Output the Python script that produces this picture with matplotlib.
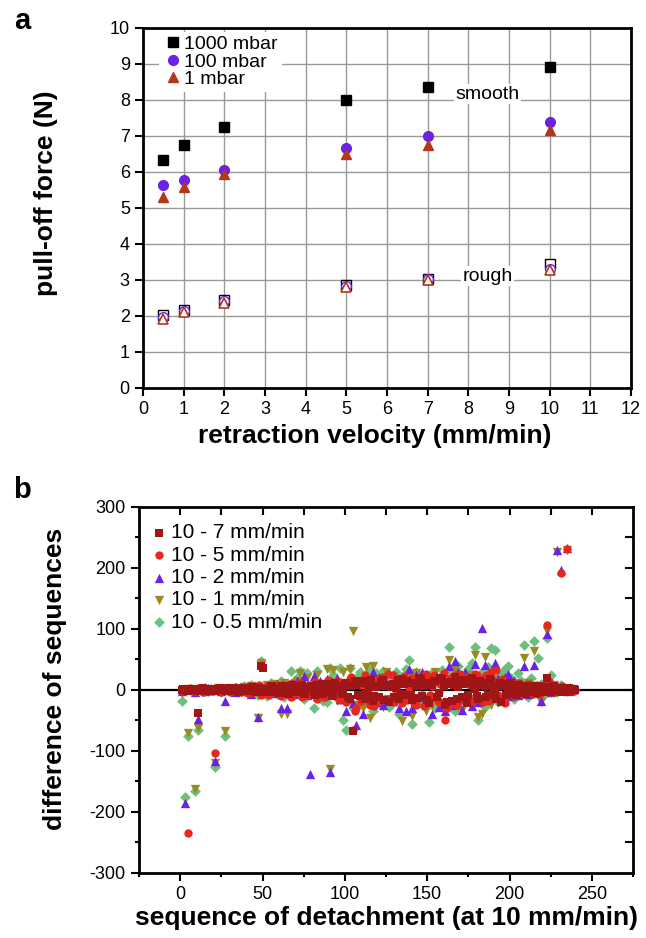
import numpy as np
import matplotlib
matplotlib.use("Agg")
import matplotlib.pyplot as plt

plt.rcParams['font.family'] = ['Liberation Sans', 'DejaVu Sans']
plt.rcParams['axes.unicode_minus'] = False

# ---- panel a: pull-off force vs retraction velocity ----
velocity = [0.5, 1, 2, 5, 7, 10]
smooth_1000 = [6.33, 6.73, 7.25, 7.98, 8.35, 8.90]
smooth_100 = [5.62, 5.77, 6.05, 6.65, 7.00, 7.38]
smooth_1 = [5.30, 5.58, 5.95, 6.50, 6.75, 7.15]
rough_1000 = [2.02, 2.17, 2.45, 2.85, 3.02, 3.45]
rough_100 = [1.97, 2.13, 2.40, 2.83, 3.02, 3.30]
rough_1 = [1.92, 2.10, 2.37, 2.80, 3.00, 3.27]

# ---- panel b: difference of sequences ----
seq = np.arange(1, 241, 2)       # odd detachment numbers
seq_even = np.arange(2, 241, 2)  # even detachment numbers
diff_7 = [0, 1, -1, 0, 2, -38, 1, -1, 0, 2,
          -2, 1, 0, 3, -1, 2, 0, -3, 1, 2,
          3, -2, 1, 0, 39, -4, 2, 5, -3, 1,
          4, -5, 6, 2, -3, 7, 0, -6, 5, 3,
          -4, 8, 2, -7, 10, 4, -9, 6, 1, -5,
          12, -15, -67, 8, -10, 14, -6, 9, -18, 5,
          -12, 16, 7, -20, 10, 3, -14, 18, -8, 11,
          -16, 6, 20, -10, 12, -22, 8, 15, -5, 18,
          -25, 10, -18, 22, 5, -12, 16, -8, 20, 2,
          -14, 12, 6, -9, 15, -4, 8, -20, 10, 3,
          -6, 8, 4, -5, 7, 2, -4, 6, -3, 5,
          3, 19, -4, 6, 2, -3, 4, 1, -2, 1]
diff_7_even = [1, -1, 2, 0, -2, 1, 3, -1, 0, 2,
               -1, 3, 1, -2, 2, 4, -1, 1, 3, -2,
               2, 5, -3, 4, 36, 1, -4, 6, 3, -5,
               7, 2, -6, 8, 4, -3, 9, -7, 2, 6,
               -8, 5, 10, -4, 7, -10, 12, 3, -6, 9,
               -12, 6, 15, -8, 11, -14, 4, 16, -10, 7,
               13, -16, 9, 5, -12, 17, -6, 10, 14, -9,
               11, -13, 18, 6, -17, 9, 14, -11, 19, 7,
               -20, 13, 8, -15, 17, 10, -22, 12, 6, -10,
               15, 9, -12, 18, 5, -14, 11, 7, -9, 12,
               5, -8, 9, 3, -6, 7, 4, -5, 6, 2,
               -4, 5, 3, -2, 4, 2, -3, 3, 1, 0]
diff_5 = [1, 0, -235, 2, -1, 3, 0, -2, 1, -1,
          -103, 2, -3, 1, 4, -2, 0, 3, -4, 2,
          -5, 3, 6, -2, -8, 4, 7, -5, 2, 9,
          -10, 6, 3, -12, 8, -4, 11, 2, -9, 5,
          7, -14, 12, 3, -8, 15, -3, 10, -16, 6,
          -20, 18, -65, -30, 9, -12, 20, -25, 6, 14,
          -18, 22, 8, -15, 25, -6, 12, -22, 16, 4,
          20, -24, 10, -8, 26, -14, 6, 18, -20, 12,
          -49, 15, -22, 24, 8, -16, 20, -10, 14, 27,
          -12, 18, 6, -18, 30, 10, -8, 15, -22, 9,
          8, -10, 12, 4, -6, 10, -4, 7, 2, -5,
          6, 107, 3, -4, 5, 192, 3, 231, 2, -1]
diff_5_even = [-2, 1, 3, -1, 0, 2, -3, 1, 2, -1,
               3, -2, 0, 4, -3, 1, 5, -2, 2, -4,
               6, -3, 2, 8, -6, 4, -9, 3, 7, -4,
               9, -7, 5, 12, -5, 10, -11, 4, 8, -6,
               13, -5, 8, -12, 16, 4, -10, 14, -7, 11,
               -16, 22, -35, 12, -18, 24, -9, 17, -26, 10,
               20, -14, 26, 6, -20, 15, -11, 23, -17, 9,
               -22, 18, 12, -26, 21, -9, 25, -15, 10, 28,
               -30, 19, 11, -24, 26, -13, 22, 8, -18, 24,
               16, -20, 25, -8, 14, 32, -14, 18, -10, 12,
               -9, 11, 6, -7, 9, 5, -6, 8, -4, 3,
               4, 15, -3, 5, 2, 6, -2, 3, 1, 0]
diff_2 = [-2, -185, 1, 0, -3, -47, 2, -1, 3, 0,
          -117, 2, -1, -18, 3, 0, -4, 2, 5, -2,
          4, -6, 3, -45, 6, -3, 8, 2, -5, 10,
          -29, 8, -30, 12, -6, 15, 4, 23, -8, -138,
          23, -10, 14, 6, 18, -134, 8, 20, -15, 12,
          -35, 18, -22, -58, 12, -40, 25, -15, 30, -20,
          22, -25, 15, 28, -18, 10, -30, 20, -35, 34,
          -29, 25, -12, 30, -20, 15, -40, 22, -28, 18,
          -35, 39, -25, 47, 29, -32, 29, 20, -27, 43,
          -20, 101, 41, -15, 25, 45, 18, -12, 22, 27,
          -10, 15, -8, 12, 39, -6, 10, 41, -5, -18,
          8, 92, -4, 6, 230, 197, 4, 233, -2, 1]
diff_1 = [-5, 2, -70, -2, -163, -62, 1, -3, 2, 0,
          -120, 3, -2, -68, 1, 4, -3, 2, -1, 5,
          -4, 6, 3, -46, 45, -5, 8, -2, 10, 4,
          -40, 12, -40, 8, -10, 15, 28, -12, 20, 6,
          -8, 25, 10, -15, 35, -129, 32, -18, 12, 30,
          -20, 35, 97, -25, 15, -30, 38, -46, 40, -22,
          18, -28, 30, -15, 22, -20, 12, -51, 20, 25,
          -43, 28, -18, 15, -35, 20, -25, 30, -10, 18,
          -22, 49, 15, 35, -28, -32, 22, -15, 25, 57,
          -44, -40, 54, 20, -25, 18, -15, 12, 10, -8,
          15, -12, 10, -8, 52, 12, -6, 64, 5, -20,
          6, 97, -5, 8, 226, 3, -3, 230, 2, -1]
diff_05 = [-18, -176, -75, 2, -165, -66, -1, 3, -2, 1,
           -127, 2, -3, -75, 4, -1, 3, -4, 2, 6,
           -5, 8, 4, -8, 48, 6, -10, 12, 3, -6,
           15, -12, 10, 31, -8, 20, 31, -15, 28, 5,
           -29, 31, 12, -18, -20, 36, 25, -10, 36, -50,
           -66, 36, -30, 20, 30, -25, 15, 33, -35, 28,
           -20, 31, 25, -28, 18, 30, -40, 22, 35, 49,
           -55, 30, -22, 25, -18, -52, 28, -30, 20, 32,
           -28, 71, 30, -35, 40, 25, -20, 35, 45, 71,
           -50, 30, -28, 38, 69, 65, -20, 25, 35, 39,
           20, -15, 28, 15, 73.5, -12, 20, 80, 53, 10,
           -8, 85, 25, 5, -4, 8, 3, -2, 4, 1]

purple = '#6a22e6'
brick = '#b5361c'

fig = plt.figure(figsize=(6.46, 9.38), dpi=100)

# ---------------- panel a ----------------
ax1 = fig.add_axes([0.2214, 0.5864, 0.7554, 0.3841])
ax1.set_axisbelow(True)
ax1.grid(True, color='#9a9a9a', lw=1.0)
ax1.plot(velocity, smooth_1000, 's', color='black', ms=6.5, ls='none', label='1000 mbar')
ax1.plot(velocity, smooth_100, 'o', color=purple, ms=7, ls='none', label='100 mbar')
ax1.plot(velocity, smooth_1, '^', color=brick, ms=7.5, ls='none', label='1 mbar')
ax1.plot(velocity, rough_1000, 's', mfc='white', mec='black', mew=1.0, ms=6.5, ls='none')
ax1.plot(velocity, rough_100, 'o', mfc='white', mec=purple, mew=1.0, ms=7, ls='none')
ax1.plot(velocity, rough_1, '^', mfc='white', mec=brick, mew=1.2, ms=7.5, ls='none')
ax1.set_xlim(0, 12)
ax1.set_ylim(0, 10)
ax1.set_xticks(range(0, 13))
ax1.set_yticks(range(0, 11))
ax1.tick_params(direction='out', length=6, width=1.5, labelsize=13)
for s in ax1.spines.values():
    s.set_linewidth(2)
ax1.set_xlabel('retraction velocity (mm/min)', fontsize=19, fontweight='bold')
ax1.xaxis.set_label_coords(0.475, -0.1)
ax1.set_ylabel('pull-off force (N)', fontsize=19, fontweight='bold')
ax1.yaxis.set_label_coords(-0.175, 0.54)
ax1.text(8.48, 8.15, 'smooth', fontsize=14, ha='center', va='center',
         bbox=dict(facecolor='white', edgecolor='none', pad=1))
ax1.text(8.48, 3.1, 'rough', fontsize=14, ha='center', va='center',
         bbox=dict(facecolor='white', edgecolor='none', pad=1))
leg1 = ax1.legend(loc='upper left', bbox_to_anchor=(0.025, 1.0), fontsize=14, frameon=True,
                  framealpha=1, edgecolor='none', handletextpad=0.1, labelspacing=0.0,
                  borderpad=0.2, handlelength=1.0, borderaxespad=0.2)
leg1.get_frame().set_boxstyle('square', pad=0)

# ---------------- panel b ----------------
ax2 = fig.add_axes([0.2152, 0.0693, 0.7647, 0.3902])
ax2.axhline(0, color='black', lw=1.6, zorder=1)
ax2.scatter(seq, diff_05, marker='D', s=30, color='#6fbf7c', lw=0, zorder=2, label='10 - 0.5 mm/min')
ax2.scatter(seq, diff_1, marker='v', s=45, color='#9a8a22', lw=0, zorder=3, label='10 - 1 mm/min')
ax2.scatter(seq, diff_2, marker='^', s=45, color='#6a22e6', lw=0, zorder=4, label='10 - 2 mm/min')
ax2.scatter(seq, diff_5, marker='o', s=36, color='#e8261e', lw=0, zorder=5, label='10 - 5 mm/min')
ax2.scatter(seq_even, diff_5_even, marker='o', s=36, color='#e8261e', lw=0, zorder=5)
ax2.scatter(seq, diff_7, marker='s', s=32, color='#a01515', lw=0, zorder=6, label='10 - 7 mm/min')
ax2.scatter(seq_even, diff_7_even, marker='s', s=32, color='#a01515', lw=0, zorder=6)
ax2.set_xlim(-25, 275)
ax2.set_ylim(-300, 300)
ax2.set_xticks(range(0, 251, 50))
ax2.set_xticks(range(-25, 276, 25), minor=True)
ax2.set_yticks(range(-300, 301, 100))
ax2.set_yticks(range(-250, 300, 100), minor=True)
ax2.tick_params(which='major', direction='out', length=6, width=1.5, labelsize=13)
ax2.tick_params(which='minor', direction='out', length=3, width=1.5)
for s in ax2.spines.values():
    s.set_linewidth(2)
sx = ax2.secondary_xaxis('top')
sx.set_xticks(range(0, 251, 25))
sx.tick_params(direction='in', length=6, width=1.5, labeltop=False)
sy = ax2.secondary_yaxis('right')
sy.set_yticks(range(-250, 300, 50))
sy.tick_params(direction='in', length=6, width=1.5, labelright=False)
ax2.set_xlabel('sequence of detachment (at 10 mm/min)', fontsize=19, fontweight='bold', labelpad=2)
ax2.set_ylabel('difference of sequences', fontsize=19, fontweight='bold')
ax2.yaxis.set_label_coords(-0.145, 0.53)
h, l = ax2.get_legend_handles_labels()
ax2.legend(h[::-1], l[::-1], loc='upper left', bbox_to_anchor=(-0.01, 0.995), fontsize=15,
           frameon=False, handletextpad=0.05, labelspacing=0.16, borderpad=0.2,
           handlelength=1.0, scatterpoints=1)

fig.text(0.034, 0.978, 'a', fontsize=21, fontweight='bold', ha='center', va='center')
fig.text(0.034, 0.478, 'b', fontsize=21, fontweight='bold', ha='center', va='center')

fig.savefig('out.png', dpi=100)
